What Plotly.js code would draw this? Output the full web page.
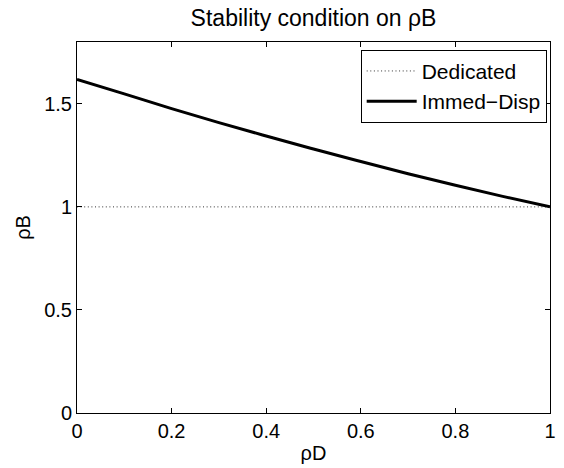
<!DOCTYPE html>
<html>
<head>
<meta charset="utf-8">
<script src="https://cdn.plot.ly/plotly-3.0.1.min.js"></script>
<style>html,body{margin:0;padding:0;background:#fff;}#chart{width:564px;height:468px;}</style>
</head>
<body>
<div id="chart"></div>
<script>
// Data
const rhoD = [0, 0.1, 0.2, 0.3, 0.4, 0.5, 0.6, 0.7, 0.8, 0.9, 1.0];
const dedicated = [1, 1, 1, 1, 1, 1, 1, 1, 1, 1, 1];
const immedDisp = [1.618, 1.548, 1.477, 1.409, 1.344, 1.281, 1.220, 1.161, 1.105, 1.051, 1.000];
const xTicks = [0, 0.2, 0.4, 0.6, 0.8, 1];
const xTickText = ['0', '0.2', '0.4', '0.6', '0.8', '1'];
const yTicks = [0, 0.5, 1, 1.5];
const yTickText = ['0', '0.5', '1', '1.5'];

const FONT = '"Liberation Sans", Arial, Helvetica, sans-serif';

const traces = [
  {
    x: rhoD, y: dedicated, name: 'Dedicated', type: 'scatter', mode: 'lines',
    line: {color: '#333', width: 1, dash: '1px,2.6px'}
  },
  {
    x: rhoD, y: immedDisp, name: 'Immed\u2212Disp', type: 'scatter', mode: 'lines',
    line: {color: '#000', width: 3, shape: 'spline'}
  }
];

const axisCommon = {
  showline: true, linecolor: '#000', linewidth: 1, mirror: 'ticks',
  ticks: 'inside', ticklen: 5, tickcolor: '#000', tickwidth: 1,
  showgrid: false, zeroline: false,
  tickfont: {family: FONT, size: 20, color: '#000'}
};

const layout = {
  width: 564, height: 468,
  margin: {l: 77, r: 14, t: 42, b: 55, pad: 0},
  paper_bgcolor: '#fff', plot_bgcolor: '#fff',
  font: {family: FONT, color: '#000'},
  title: {text: 'Stability condition on \u03c1B', font: {family: FONT, size: 23, color: '#000'},
          x: 0.5, xref: 'paper', xanchor: 'center', y: 0.962, yref: 'container', yanchor: 'middle'},
  xaxis: Object.assign({}, axisCommon, {
    range: [0, 1], tickvals: xTicks, ticktext: xTickText,
    title: {text: '\u03c1D', font: {family: FONT, size: 20, color: '#000'}, standoff: 4}
  }),
  yaxis: Object.assign({}, axisCommon, {
    range: [0, 1.8], tickvals: yTicks, ticktext: yTickText,
    title: {text: '\u03c1B', font: {family: FONT, size: 20, color: '#000'}, standoff: 8}
  }),
  showlegend: true,
  legend: {
    x: 0.993, y: 0.979, xanchor: 'right', yanchor: 'top',
    bgcolor: '#fff', bordercolor: '#000', borderwidth: 1,
    font: {family: FONT, size: 21, color: '#000'},
    tracegroupgap: 0, itemwidth: 50
  }
};

Plotly.newPlot('chart', traces, layout, {displayModeBar: false, staticPlot: true});
</script>
</body>
</html>
